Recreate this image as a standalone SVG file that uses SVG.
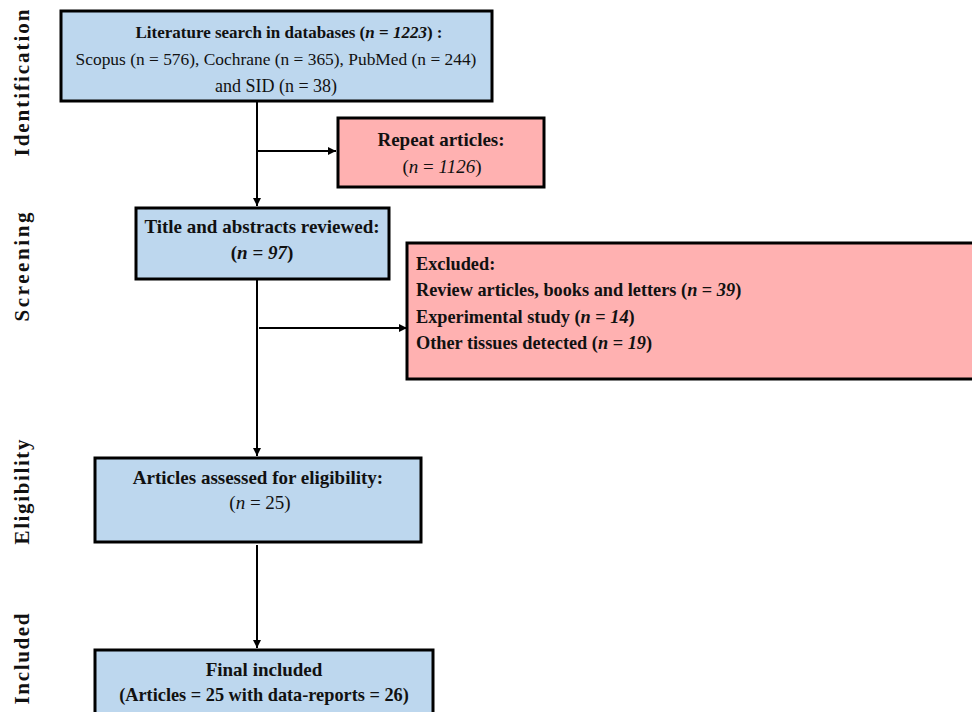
<svg xmlns="http://www.w3.org/2000/svg" width="972" height="712" viewBox="0 0 972 712">
<defs>
<marker id="ah" viewBox="0 0 10 10" refX="10" refY="5" markerWidth="4" markerHeight="4" orient="auto" markerUnits="strokeWidth">
<path d="M0,0 L10,5 L0,10 z" fill="#000"/>
</marker>
<style>
.blue{fill:#BDD7EE;stroke:#000;stroke-width:3}
.pink{fill:#FFB1B1;stroke:#000;stroke-width:3}
text{font-family:"Liberation Serif","Times New Roman",serif;font-size:19px;fill:#111}
.b{font-weight:bold}
.c{text-anchor:middle}
.i{font-style:italic}
.s{font-size:18.3px}
.side{font-weight:bold;font-size:21px;text-anchor:middle}
.ln{stroke:#000;stroke-width:2;fill:none}
</style>
</defs>
<rect width="972" height="712" fill="#fff"/>
<g id="stages">
<text class="side" transform="translate(29,83) rotate(-90)" textLength="147" lengthAdjust="spacing">Identification</text>
<text class="side" transform="translate(29,267) rotate(-90)" textLength="109" lengthAdjust="spacing">Screening</text>
<text class="side" transform="translate(29,492) rotate(-90)" textLength="105" lengthAdjust="spacing">Eligibility</text>
<text class="side" transform="translate(29,659) rotate(-90)" textLength="91" lengthAdjust="spacing">Included</text>
</g>
<g id="connectors">
<line class="ln" x1="257" y1="101" x2="257" y2="206" marker-end="url(#ah)"/>
<line class="ln" x1="257" y1="151" x2="336" y2="151" marker-end="url(#ah)"/>
<line class="ln" x1="257" y1="280" x2="257" y2="456" marker-end="url(#ah)"/>
<line class="ln" x1="259" y1="328" x2="407" y2="328" marker-end="url(#ah)"/>
<line class="ln" x1="257" y1="545" x2="257" y2="648" marker-end="url(#ah)"/>
</g>
<g id="search">
<rect class="blue" x="61" y="11" width="431" height="90"/>
<text class="c b" x="289" y="38" style="font-size:17px">Literature search in databases (<tspan class="i">n</tspan> = <tspan class="i">1223</tspan>) :</text>
<text class="c" x="276" y="65" style="font-size:17.4px">Scopus (n = 576), Cochrane (n = 365), PubMed (n = 244)</text>
<text class="c" x="276" y="92" style="font-size:18px">and  SID (n = 38)</text>
</g>
<g id="repeat">
<rect class="pink" x="338" y="118" width="206" height="69"/>
<text class="c b" x="441" y="146">Repeat articles:</text>
<text class="c" x="442" y="173">(<tspan class="i">n</tspan> = <tspan class="i">1126</tspan>)</text>
</g>
<g id="screen">
<rect class="blue" x="136" y="208" width="253" height="71"/>
<text class="c b" x="262" y="233">Title and abstracts reviewed:</text>
<text class="c b" x="262" y="259">(<tspan class="i">n</tspan> = <tspan class="i">97</tspan>)</text>
</g>
<g id="excluded">
<rect class="pink" x="407" y="243" width="570" height="136"/>
<text class="b s" x="416" y="270">Excluded:</text>
<text class="b s" x="416" y="296">Review articles, books and letters (<tspan class="i">n</tspan> = <tspan class="i">39</tspan>)</text>
<text class="b s" x="416" y="323">Experimental study (<tspan class="i">n</tspan> = <tspan class="i">14</tspan>)</text>
<text class="b s" x="416" y="349">Other tissues detected (<tspan class="i">n</tspan> = <tspan class="i">19</tspan>)</text>
</g>
<g id="eligibility">
<rect class="blue" x="95" y="458" width="326" height="84"/>
<text class="c b" x="258" y="484">Articles  assessed for eligibility:</text>
<text class="c" x="260" y="509">(<tspan class="i">n</tspan> = 25)</text>
</g>
<g id="included">
<rect class="blue" x="95" y="650" width="338" height="70"/>
<text class="c b" x="264" y="676">Final included</text>
<text class="c b s" x="264" y="701">(Articles  = 25 with data-reports = 26)</text>
</g>
</svg>
